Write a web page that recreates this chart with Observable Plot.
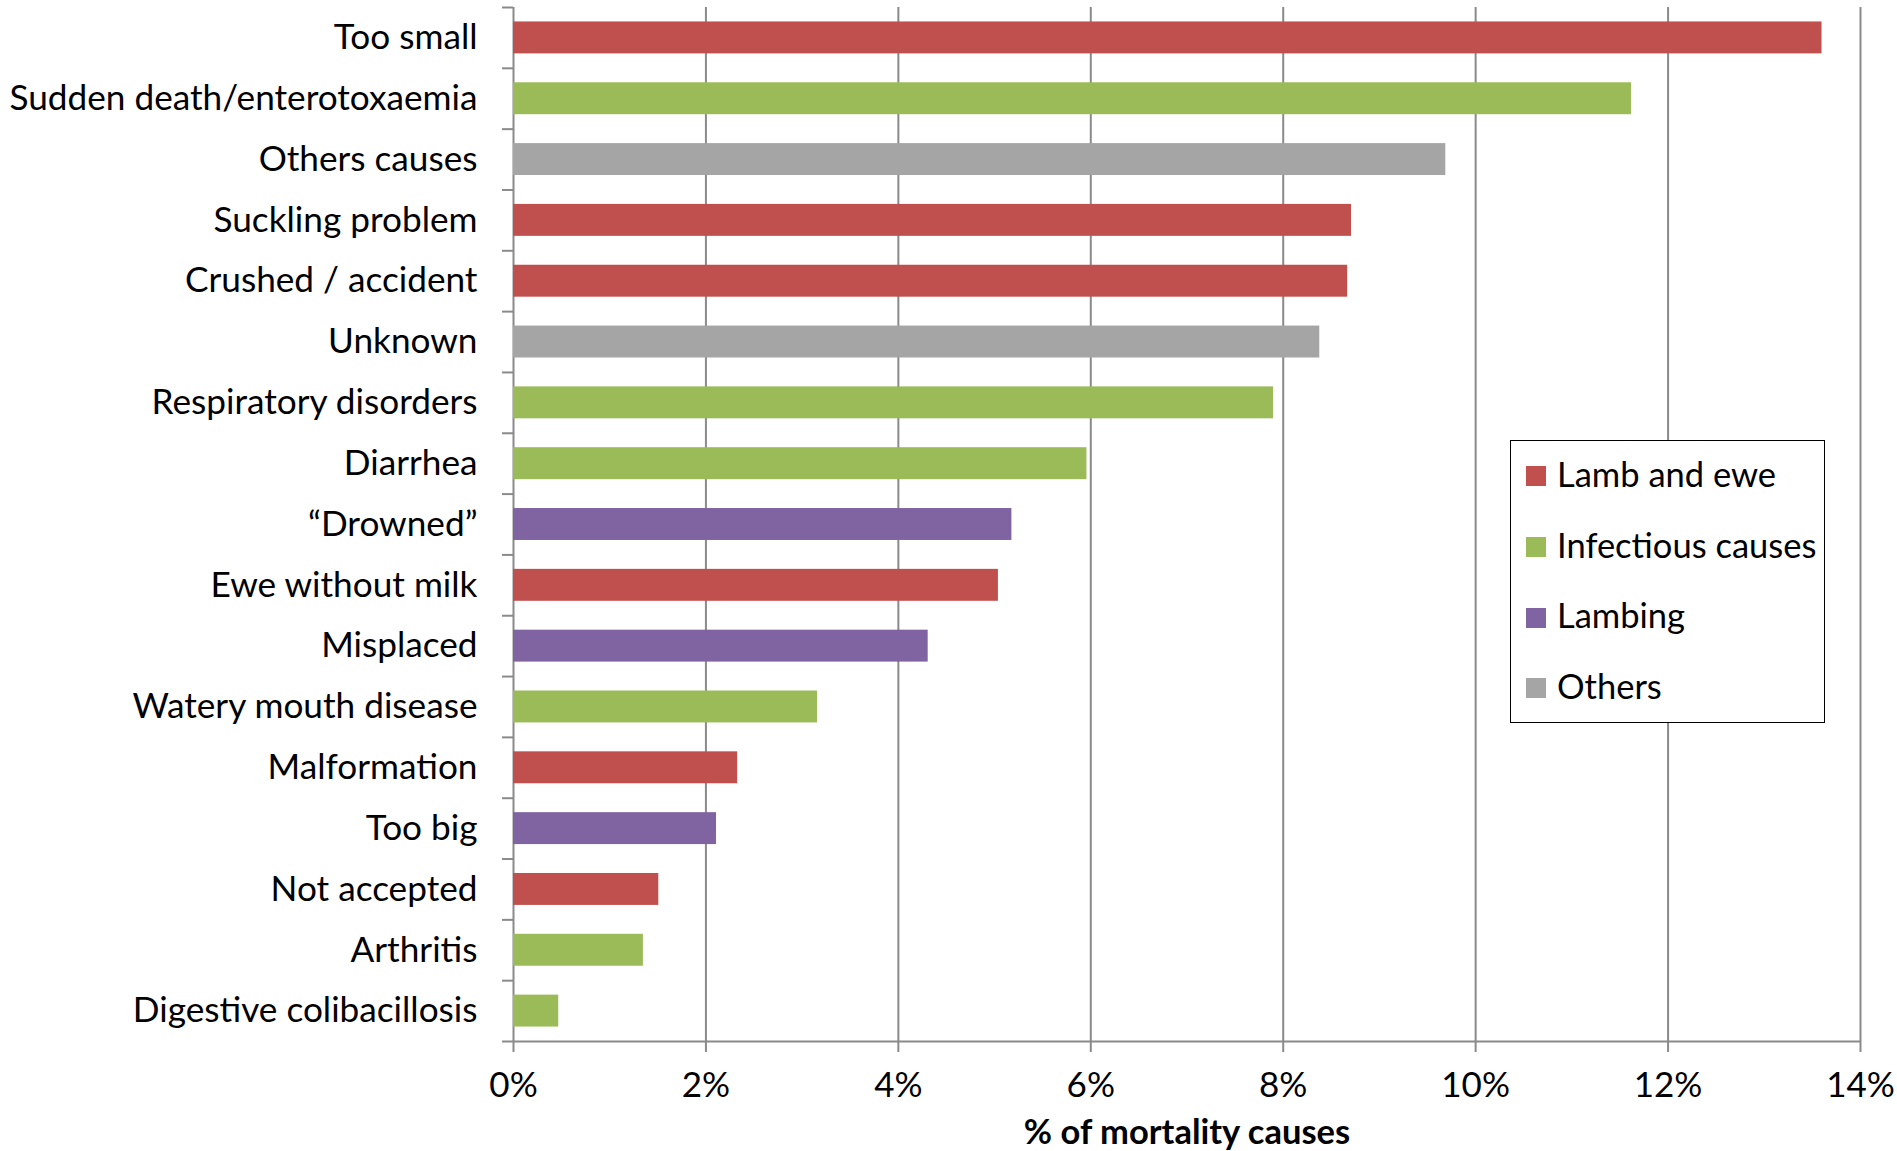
<!DOCTYPE html>
<html>
<head>
<meta charset="utf-8">
<script src="https://cdn.jsdelivr.net/npm/d3@7"></script>
<script src="https://cdn.jsdelivr.net/npm/@observablehq/plot@0.6"></script>
<style>
  html, body { margin: 0; padding: 0; background: #fff; }
  #chart { position: relative; width: 1897px; height: 1151px; font-family: Lato, "Noto Sans", sans-serif; color: #000; }
  #legend { position: absolute; left: 1510px; top: 440px; width: 315px; height: 283px; box-sizing: border-box;
            border: 1.5px solid #000; background: #fff; }
  #legend .item { position: absolute; left: 15px; height: 0; display: flex; align-items: center; white-space: nowrap;
                  font-size: 34.5px; line-height: 1; }
  #legend .sw { width: 20px; height: 20px; margin-right: 11px; flex: none; }
  #legend .lab { position: relative; top: -2px; }
</style>
</head>
<body>
<div id="chart"></div>
<script>
// Causes of lamb mortality, sorted by share
const causes = [
  "Too small", "Sudden death/enterotoxaemia", "Others causes", "Suckling problem",
  "Crushed / accident", "Unknown", "Respiratory disorders", "Diarrhea", "“Drowned”",
  "Ewe without milk", "Misplaced", "Watery mouth disease", "Malformation", "Too big",
  "Not accepted", "Arthritis", "Digestive colibacillosis"
];
const shares = [13.60, 11.62, 9.69, 8.71, 8.67, 8.38, 7.90, 5.96, 5.18, 5.04, 4.31, 3.16, 2.33, 2.11, 1.51, 1.35, 0.47];
const groups = [
  "Lamb and ewe", "Infectious causes", "Others", "Lamb and ewe",
  "Lamb and ewe", "Others", "Infectious causes", "Infectious causes", "Lambing",
  "Lamb and ewe", "Lambing", "Infectious causes", "Lamb and ewe", "Lambing",
  "Lamb and ewe", "Infectious causes", "Infectious causes"
];
const groupNames = ["Lamb and ewe", "Infectious causes", "Lambing", "Others"];
const groupColors = ["#C0504D", "#9BBB59", "#8064A2", "#A5A5A5"];
const xTicks = [0, 2, 4, 6, 8, 10, 12, 14];
const xTitle = "% of mortality causes";

const rows = causes.map((cause, i) => ({cause, share: shares[i], group: groups[i]}));

const width = 1897, height = 1151;
const marginTop = 7, marginBottom = 110, marginLeft = 513, marginRight = 37;
const gridColor = "#8a8a8a";
// band step: outer padding is half the inner padding, so bands tile the frame
const step = (height - marginTop - marginBottom) / causes.length;

const plot = Plot.plot({
  width, height, marginTop, marginBottom, marginLeft, marginRight,
  style: {fontFamily: "Lato, 'Noto Sans', sans-serif", fontSize: "35px", color: "#000", background: "#fff"},
  x: {domain: [0, 14]},
  y: {domain: causes, paddingInner: 0.475, paddingOuter: 0.2375, round: false},
  color: {domain: groupNames, range: groupColors},
  marks: [
    Plot.ruleX(xTicks, {stroke: gridColor, strokeWidth: 2}),
    Plot.barX(rows, {x: "share", y: "cause", fill: "group"}),
    // category axis line at the bottom of the frame
    Plot.ruleY([causes[causes.length - 1]], {x1: 0, x2: 14, dy: step / 2, stroke: gridColor, strokeWidth: 2}),
    // tick marks between categories
    Plot.axisY({ticks: causes, tickSize: 11, tickFormat: () => "", dy: step / 2, stroke: gridColor, strokeWidth: 2, label: null}),
    Plot.axisY({ticks: [causes[0]], tickSize: 11, tickFormat: () => "", dy: -step / 2, stroke: gridColor, strokeWidth: 2, label: null}),
    // category labels
    Plot.axisY({tickSize: 0, tickPadding: 36, fontSize: 35.2, fill: "#000", label: null}),
    Plot.axisX({ticks: xTicks, tickSize: 11, tickPadding: 20, tickFormat: d => `${d}%`, fontSize: 35,
                stroke: gridColor, strokeWidth: 2, fill: "#000", label: null}),
    Plot.text([xTitle], {text: d => d, frameAnchor: "bottom", dy: 91, fontWeight: "bold", fontSize: 34.5,
                         lineAnchor: "middle", fill: "#000"})
  ]
});

const chart = document.getElementById("chart");
chart.appendChild(plot);

// legend box
const legend = document.createElement("div");
legend.id = "legend";
const itemTops = [35, 106, 176.5, 247];
groupNames.forEach((name, i) => {
  const item = document.createElement("div");
  item.className = "item";
  item.style.top = itemTops[i] + "px";
  const sw = document.createElement("span");
  sw.className = "sw";
  sw.style.background = groupColors[i];
  const lab = document.createElement("span");
  lab.className = "lab";
  lab.textContent = name;
  item.append(sw, lab);
  legend.appendChild(item);
});
chart.appendChild(legend);
</script>
</body>
</html>
